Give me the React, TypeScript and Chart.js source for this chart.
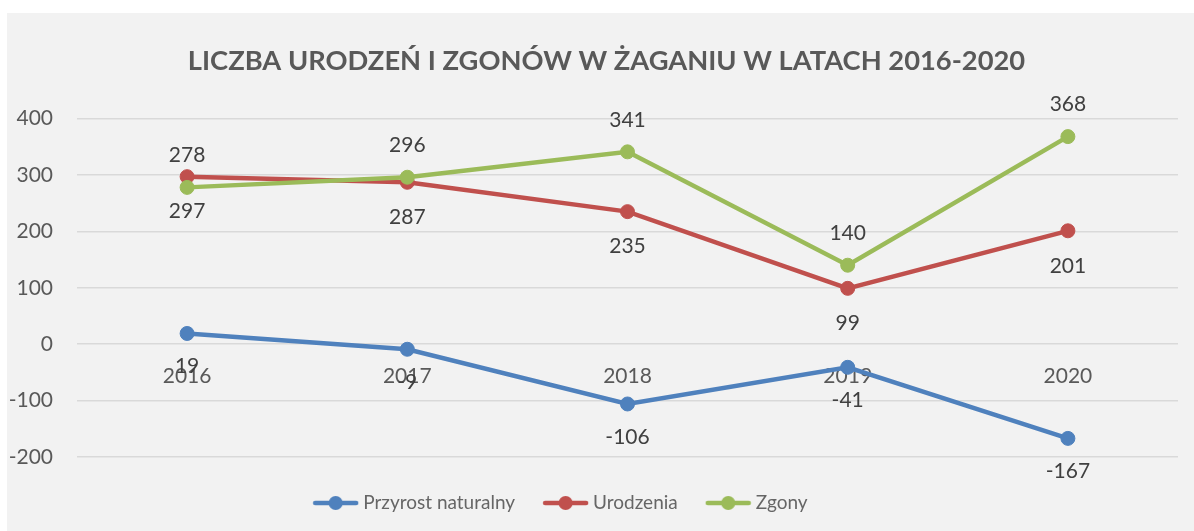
import React, { useEffect, useRef } from "react";
import { Chart, registerables } from "chart.js";

Chart.register(...registerables);

// ---- data ----
const years = ["2016", "2017", "2018", "2019", "2020"];
const przyrost = [19, -9, -106, -41, -167];
const urodzenia = [297, 287, 235, 99, 201];
const zgony = [278, 296, 341, 140, 368];
const seriesNames = ["Przyrost naturalny", "Urodzenia", "Zgony"];
const yMin = -200;
const yMax = 400;
const yStep = 100;
const titleText = "LICZBA URODZEŃ I ZGONÓW W ŻAGANIU W LATACH 2016-2020";

// ---- styles ----
const colors = ["#4f81bd", "#c0504d", "#9bbb59"];
const labelOffsets = [33, 35, -32];
const FONT = "Lato, 'Open Sans', sans-serif";

function makeLegendImage(color: string) {
  const c = document.createElement("canvas");
  c.width = 47;
  c.height = 16;
  const ctx = c.getContext("2d")!;
  ctx.strokeStyle = color;
  ctx.lineWidth = 4.5;
  ctx.lineCap = "round";
  ctx.beginPath();
  ctx.moveTo(3, 8);
  ctx.lineTo(44, 8);
  ctx.stroke();
  ctx.fillStyle = color;
  ctx.beginPath();
  ctx.arc(23.5, 8, 7, 0, Math.PI * 2);
  ctx.fill();
  return c;
}

const dataLabelPlugin = {
  id: "dataLabels",
  afterDatasetsDraw(chart: any) {
    const ctx = chart.ctx;
    ctx.save();
    ctx.font = `21px ${FONT}`;
    ctx.fillStyle = "#404040";
    ctx.textAlign = "center";
    ctx.textBaseline = "middle";
    chart.data.datasets.forEach((ds: any, i: number) => {
      const meta = chart.getDatasetMeta(i);
      meta.data.forEach((el: any, j: number) => {
        ctx.fillText(String(ds.data[j]), el.x, el.y + labelOffsets[i]);
      });
    });
    ctx.restore();
  },
};

// let the y-axis tick labels extend into the layout padding (no clipping)
const noClipPlugin = {
  id: "noClipY",
  afterLayout(chart: any) {
    const s = chart.scales.y;
    if (s) s._computeLabelArea = () => undefined;
  },
};

export default function App() {
  const ref = useRef<HTMLCanvasElement>(null);

  useEffect(() => {
    document.body.style.margin = "0";
    const images = colors.map(makeLegendImage);
    const blank = document.createElement("canvas");
    blank.width = 1;
    blank.height = 1;

    const seriesData = [przyrost, urodzenia, zgony];
    const chart = new Chart(ref.current!, {
      type: "line",
      data: {
        labels: years,
        datasets: seriesData.map((d, i) => ({
          label: seriesNames[i],
          data: d,
          borderColor: colors[i],
          backgroundColor: colors[i],
          borderWidth: 4.5,
          pointRadius: 7,
          pointHoverRadius: 7,
          pointBorderWidth: 1,
          pointBorderColor: colors[i],
          pointBackgroundColor: colors[i],
          tension: 0,
          fill: false,
          order: 3 - i,
        })),
      },
      options: {
        responsive: false,
        animation: false,
        devicePixelRatio: 1,
        events: [],
        layout: { padding: { left: 28, right: 16, top: 0, bottom: 8.5 } },
        scales: {
          x: {
            type: "category",
            offset: true,
            position: { y: 0 } as any,
            grid: { display: false },
            border: { display: false },
            ticks: {
              color: "#595959",
              font: { family: FONT, size: 21 },
              padding: 11,
              maxRotation: 0,
            },
          },
          y: {
            min: yMin,
            max: yMax,
            afterFit: (scale: any) => {
              scale.width = 42;
            },
            grid: { color: "#d9d9d9", lineWidth: 1.5, drawTicks: false },
            border: { display: false },
            ticks: {
              stepSize: yStep,
              color: "#595959",
              font: { family: FONT, size: 21 },
              padding: 24,
            },
          },
        },
        plugins: {
          title: {
            display: true,
            text: titleText,
            color: "#595959",
            font: { family: FONT, size: 27.3, weight: "bold" },
            padding: { top: 32.2, bottom: 40.6 },
          },
          legend: {
            display: true,
            position: "bottom",
            title: { display: true, text: "", padding: 0, font: { size: 4, lineHeight: 1 } },
            labels: {
              color: "#595959",
              font: { family: FONT, size: 19 },
              usePointStyle: true,
              pointStyleWidth: 36,
              padding: 32.5,
              generateLabels: () => {
                const items: any[] = seriesNames.map((n, i) => ({
                  text: n,
                  fillStyle: colors[i],
                  strokeStyle: colors[i],
                  lineWidth: 0,
                  pointStyle: images[i],
                  hidden: false,
                  datasetIndex: i,
                }));
                items.push({
                  text: "  ",
                  fillStyle: "transparent",
                  strokeStyle: "transparent",
                  lineWidth: 0,
                  pointStyle: blank,
                  hidden: false,
                  fontColor: "transparent",
                });
                return items;
              },
            },
          },
          tooltip: { enabled: false },
        },
      },
      plugins: [dataLabelPlugin, noClipPlugin],
    });
    return () => chart.destroy();
  }, []);

  return (
    <div style={{ position: "fixed", left: 0, top: 0, width: 1194, height: 531, background: "#ffffff" }}>
      <div style={{ position: "absolute", left: 7, top: 13, width: 1187, height: 518, background: "#f2f2f2" }}>
        <canvas ref={ref} width={1187} height={518} style={{ display: "block" }} />
      </div>
    </div>
  );
}
